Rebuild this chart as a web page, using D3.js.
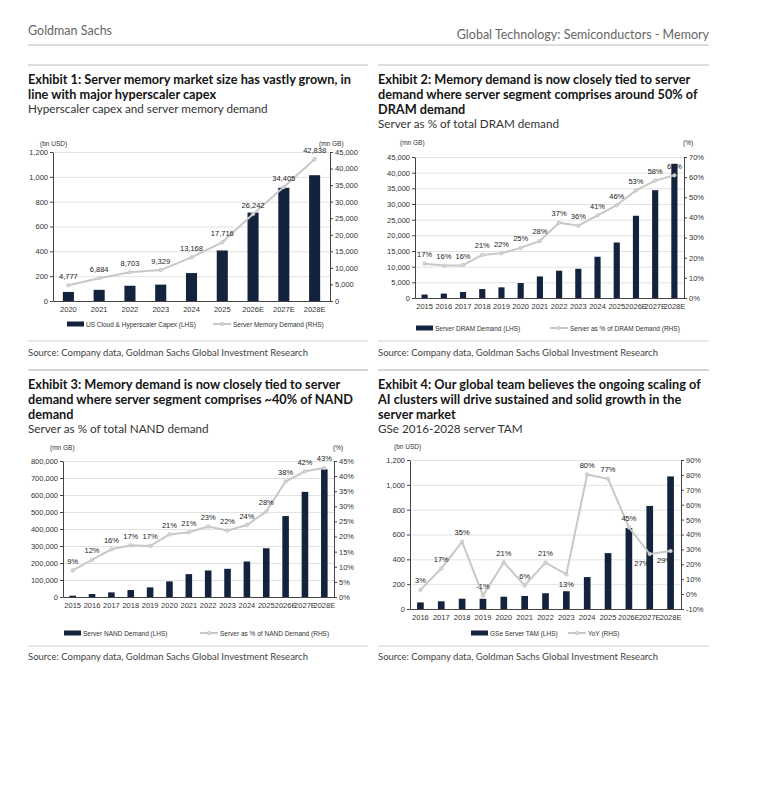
<!DOCTYPE html>
<html>
<head>
<meta charset="utf-8">
<script src="https://cdn.jsdelivr.net/npm/d3@7/dist/d3.min.js"></script>
<style>
  body { margin: 0; background: #fff; }
  svg text { font-family: "Liberation Sans", Arial, sans-serif; fill: #333; }
  svg text.doc { font-family: Lato, "Open Sans", sans-serif; }
  svg text.title { font-family: Lato, "Open Sans", sans-serif; font-weight: bold; fill: #151515; }
</style>
</head>
<body>
<svg id="page" width="759" height="808"></svg>
<script>
// ---- data ----
const years1 = ["2020", "2021", "2022", "2023", "2024", "2025", "2026E", "2027E", "2028E"];
const hyperscalerCapex = [73, 90, 123, 132, 225, 407, 712, 912, 1013];
const serverMemoryDemand = [4777, 6884, 8703, 9329, 13168, 17716, 26242, 34405, 42838];

const years2 = ["2015", "2016", "2017", "2018", "2019", "2020", "2021", "2022", "2023", "2024", "2025", "2026E", "2027E", "2028E"];
const serverDram = [1100, 1400, 1900, 2850, 3400, 4777, 6884, 8703, 9329, 13168, 17716, 26242, 34405, 42838];
const dramShare = [17.0, 16.1, 16.3, 21.4, 22.2, 24.9, 28.3, 37.4, 35.9, 41.0, 46.1, 53.4, 58.3, 60.9];

const serverNand = [7800, 17500, 27300, 41000, 56600, 91700, 134600, 156100, 165900, 208800, 286800, 476100, 618500, 751200];
const nandShare = [8.8, 12.3, 15.8, 17.1, 16.9, 20.7, 21.4, 23.3, 22.0, 23.8, 28.3, 38.2, 41.6, 42.7];

const years4 = ["2016", "2017", "2018", "2019", "2020", "2021", "2022", "2023", "2024", "2025", "2026E", "2027E", "2028E"];
const serverTam = [53, 62, 83, 82, 99, 105, 127, 143, 257, 450, 652, 830, 1068];
const tamYoY = [2.8, 17.2, 35.1, -1.0, 21.3, 5.8, 21.1, 13.3, 80.3, 77.4, 44.8, 26.9, 28.9];

const barColor = "#14233d";
const lineColor = "#c8c8c8";

const svg = d3.select("#page");

// ---- page furniture ----
svg.append("text").attr("class", "doc").attr("x", 28).attr("y", 30)
  .attr("dominant-baseline", "central").style("font-size", "12.5px").style("fill", "#666")
  .text("Goldman Sachs");
svg.append("text").attr("class", "doc").attr("x", 709).attr("y", 34)
  .attr("dominant-baseline", "central").attr("text-anchor", "end")
  .style("font-size", "12.5px").style("fill", "#666")
  .text("Global Technology: Semiconductors - Memory");
svg.append("line").attr("x1", 28).attr("x2", 709).attr("y1", 45).attr("y2", 45)
  .attr("stroke", "#dcdcdc").attr("stroke-width", 2);

function rule(x1, x2, y, w, c) {
  svg.append("line").attr("x1", x1).attr("x2", x2).attr("y1", y).attr("y2", y)
    .attr("stroke", c).attr("stroke-width", w);
}

// titles use a condensed bold; squeeze Lato bold horizontally so the first
// line of exhibit 1 spans the same width as in the report
const titleTexts = [];
function header(x, y, lines, sub) {
  lines.forEach((t, i) => {
    const el = svg.append("text").attr("class", "title")
      .attr("dominant-baseline", "central").style("font-size", "13.2px").text(t);
    titleTexts.push({ el, x, y: y + i * 15 });
  });
  svg.append("text").attr("class", "doc").attr("x", x).attr("y", y + lines.length * 15 - 1.5)
    .attr("dominant-baseline", "central").style("font-size", "11.7px").style("fill", "#333").text(sub);
}

function source(x, y) {
  svg.append("text").attr("class", "doc").attr("x", x).attr("y", y)
    .attr("dominant-baseline", "central").style("font-size", "9.5px").style("fill", "#444")
    .text("Source: Company data, Goldman Sachs Global Investment Research");
}

rule(28, 368, 65, 1, "#bdbdbd");
rule(378, 709, 65, 1, "#bdbdbd");
header(28, 79, ["Exhibit 1: Server memory market size has vastly grown, in",
                "line with major hyperscaler capex"], "Hyperscaler capex and server memory demand");
header(378, 79, ["Exhibit 2: Memory demand is now closely tied to server",
                 "demand where server segment comprises around 50% of",
                 "DRAM demand"], "Server as % of total DRAM demand");
rule(28, 368, 341, 1, "#d0d0d0");
rule(378, 709, 341, 1, "#d0d0d0");
source(28, 352);
source(378, 352);
rule(28, 368, 370, 2, "#d6d6d6");
rule(378, 709, 370, 2, "#d6d6d6");
header(28, 384, ["Exhibit 3: Memory demand is now closely tied to server",
                 "demand where server segment comprises ~40% of NAND",
                 "demand"], "Server as % of total NAND demand");
header(378, 384, ["Exhibit 4: Our global team believes the ongoing scaling of",
                  "AI clusters will drive sustained and solid growth in the",
                  "server market"], "GSe 2016-2028 server TAM");
rule(28, 368, 646, 1, "#d0d0d0");
rule(378, 709, 646, 1, "#d0d0d0");
source(28, 656);
source(378, 656);

const squeeze = 323 / titleTexts[0].el.node().getComputedTextLength();
titleTexts.forEach(t => t.el.attr("transform", `translate(${t.x},${t.y}) scale(${squeeze},1)`));

// ---- combo chart ----
function drawChart(cfg) {
  const g = svg.append("g");
  const x = d3.scaleBand().domain(cfg.cats).range([cfg.left, cfg.right])
    .paddingInner(cfg.pad).paddingOuter(cfg.pad / 2);
  const yL = d3.scaleLinear().domain(cfg.lDomain).range([cfg.bottom, cfg.top]);
  const yR = d3.scaleLinear().domain(cfg.rDomain).range([cfg.bottom, cfg.top]);
  const lTicks = d3.range(cfg.lDomain[0], cfg.lDomain[1] + cfg.lStep / 2, cfg.lStep);
  const rTicks = d3.range(cfg.rDomain[0], cfg.rDomain[1] + cfg.rStep / 2, cfg.rStep);

  // gridlines
  g.append("g").attr("transform", `translate(${cfg.left},0)`)
    .call(d3.axisLeft(yL).tickValues(lTicks).tickSize(-(cfg.right - cfg.left)).tickFormat(""))
    .call(a => a.select(".domain").remove())
    .call(a => a.selectAll("line").attr("stroke", "#e2e2e2"));

  // bars
  g.selectAll("rect.bar").data(cfg.bars).join("rect").attr("class", "bar")
    .attr("x", (d, i) => x(cfg.cats[i]))
    .attr("width", x.bandwidth())
    .attr("y", d => yL(d))
    .attr("height", d => yL(0) - yL(d))
    .attr("fill", barColor);

  // axes
  const styleAxis = a => {
    a.select(".domain").attr("stroke", "#444");
    a.selectAll(".tick line").attr("stroke", "#444");
    a.selectAll("text").style("font-size", "7.5px").style("fill", "#333").attr("font-family", null);
  };
  g.append("g").attr("transform", `translate(${cfg.left},0)`)
    .call(d3.axisLeft(yL).tickValues(lTicks).tickSize(3).tickSizeOuter(0).tickPadding(2).tickFormat(cfg.lFormat))
    .call(styleAxis);
  g.append("g").attr("transform", `translate(${cfg.right},0)`)
    .call(d3.axisRight(yR).tickValues(rTicks).tickSize(3).tickSizeOuter(0).tickPadding(2).tickFormat(cfg.rFormat))
    .call(styleAxis);
  g.append("g").attr("transform", `translate(0,${cfg.bottom})`)
    .call(d3.axisBottom(x).tickSize(0).tickPadding(6))
    .call(styleAxis);

  // line
  const pts = cfg.line.map((v, i) => [x(cfg.cats[i]) + x.bandwidth() / 2, yR(v)]);
  g.append("path").attr("d", d3.line()(pts)).attr("fill", "none")
    .attr("stroke", lineColor).attr("stroke-width", 2);
  g.selectAll("circle.pt").data(pts).join("circle").attr("class", "pt")
    .attr("cx", d => d[0]).attr("cy", d => d[1]).attr("r", 1.8)
    .attr("fill", "#d6d6d6").attr("stroke", "#bcbcbc").attr("stroke-width", 0.6);

  // data labels
  g.selectAll("text.lbl").data(cfg.line).join("text").attr("class", "lbl")
    .attr("x", (d, i) => pts[i][0] + ((cfg.place[cfg.cats[i]] || {}).dx || 0))
    .attr("y", (d, i) => pts[i][1] + ((cfg.place[cfg.cats[i]] || {}).dy || -9))
    .attr("text-anchor", "middle").attr("dominant-baseline", "central")
    .style("font-size", "7.5px").style("fill", "#222")
    .text(cfg.lblFormat);

  // units
  g.append("text").attr("x", cfg.lUnit[0]).attr("y", cfg.lUnit[1]).attr("dominant-baseline", "central")
    .style("font-size", "6.5px").text(cfg.lUnitText);
  if (cfg.rUnitText) {
    g.append("text").attr("x", cfg.rUnit[0]).attr("y", cfg.rUnit[1]).attr("dominant-baseline", "central")
      .style("font-size", "6.5px").text(cfg.rUnitText);
  }

  // legend
  const bx = cfg.legBar, ly = cfg.legY, lx = cfg.legLine;
  g.append("rect").attr("x", bx).attr("y", ly - 2.5).attr("width", 17).attr("height", 5).attr("fill", barColor);
  g.append("text").attr("x", bx + 19).attr("y", ly).attr("dominant-baseline", "central")
    .style("font-size", "6.5px").text(cfg.barName);
  g.append("line").attr("x1", lx).attr("x2", lx + 18).attr("y1", ly).attr("y2", ly)
    .attr("stroke", lineColor).attr("stroke-width", 2);
  g.append("circle").attr("cx", lx + 9).attr("cy", ly).attr("r", 1.8)
    .attr("fill", "#d6d6d6").attr("stroke", "#bcbcbc").attr("stroke-width", 0.6);
  g.append("text").attr("x", lx + 20).attr("y", ly).attr("dominant-baseline", "central")
    .style("font-size", "6.5px").text(cfg.lineName);
}

const comma = d3.format(",");
const pct = d => d + "%";
const pctLbl = d => Math.round(d) + "%";

drawChart({
  cats: years1, bars: hyperscalerCapex, line: serverMemoryDemand,
  left: 53, right: 330, top: 152, bottom: 301, pad: 0.64,
  lDomain: [0, 1200], lStep: 200, rDomain: [0, 45000], rStep: 5000,
  lFormat: comma, rFormat: comma, lblFormat: comma, place: {},
  lUnit: [40, 143], lUnitText: "(bn USD)", rUnit: [319, 143], rUnitText: "(mn GB)",
  legBar: 67, legY: 324, legLine: 213, barName: "US Cloud & Hyperscaler Capex (LHS)",
  lineName: "Server Memory Demand (RHS)"
});

drawChart({
  cats: years2, bars: serverDram, line: dramShare,
  left: 415, right: 684, top: 157, bottom: 298, pad: 0.68,
  lDomain: [0, 45000], lStep: 5000, rDomain: [0, 70], rStep: 10,
  lFormat: comma, rFormat: pct, lblFormat: pctLbl, place: {},
  lUnit: [400, 142], lUnitText: "(mn GB)", rUnit: [683, 142], rUnitText: "(%)",
  legBar: 416, legY: 328, legLine: 550, barName: "Server DRAM Demand (LHS)",
  lineName: "Server as % of DRAM Demand (RHS)"
});

drawChart({
  cats: years2, bars: serverNand, line: nandShare,
  left: 63, right: 334, top: 461, bottom: 597, pad: 0.66,
  lDomain: [0, 800000], lStep: 100000, rDomain: [0, 45], rStep: 5,
  lFormat: comma, rFormat: pct, lblFormat: pctLbl, place: {},
  lUnit: [50, 447], lUnitText: "(mn GB)", rUnit: [333, 447], rUnitText: "(%)",
  legBar: 64, legY: 633, legLine: 200, barName: "Server NAND Demand (LHS)",
  lineName: "Server as % of NAND Demand (RHS)"
});

drawChart({
  cats: years4, bars: serverTam, line: tamYoY,
  left: 410, right: 681, top: 460, bottom: 609, pad: 0.68,
  lDomain: [0, 1200], lStep: 200, rDomain: [-10, 90], rStep: 10,
  lFormat: comma, rFormat: pct, lblFormat: pctLbl,
  place: { "2023": { dy: 10 }, "2027E": { dx: -8, dy: 9 }, "2028E": { dx: -6, dy: 9 } },
  lUnit: [394, 446], lUnitText: "(bn USD)", rUnit: null, rUnitText: null,
  legBar: 471, legY: 633, legLine: 568, barName: "GSe Server TAM (LHS)",
  lineName: "YoY (RHS)"
});
</script>
</body>
</html>
